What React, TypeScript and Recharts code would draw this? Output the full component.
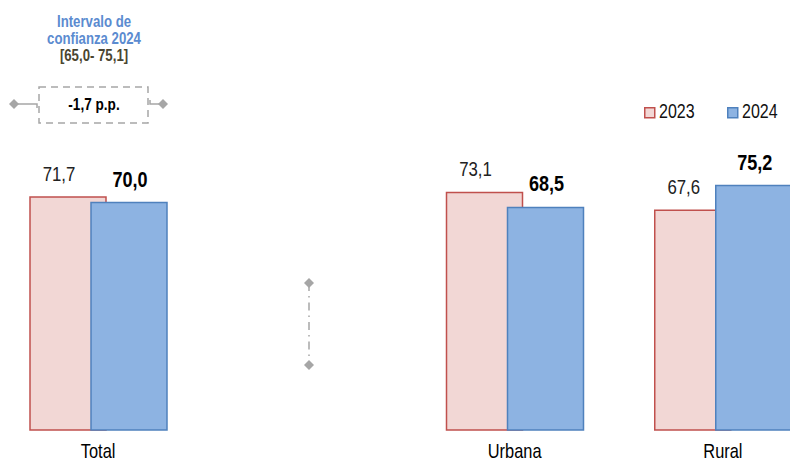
import React from 'react';
import { BarChart, Bar, XAxis, YAxis, LabelList } from 'recharts';

const CATEGORIES = ['Total', '', 'Urbana', 'Rural'];
const VALUES_2023 = [71.7, null, 73.1, 67.6];
const VALUES_2024 = [70.0, null, 68.5, 75.2];
const SERIES = ['2023', '2024'];
const CI_TITLE = ['Intervalo de', 'confianza 2024'];
const CI_RANGE = '[65,0- 75,1]';
const DIFF_LABEL = '-1,7 p.p.';

const FONT = '"Liberation Sans", Arial, sans-serif';
const PINK = '#f2d7d5';
const RED = '#c0504d';
const BLUE = '#8db3e2';
const DBLUE = '#4f81bd';
const GREY = '#a6a6a6';

const data = CATEGORIES.map((name, i) => ({
  name,
  y2023: VALUES_2023[i],
  y2024: VALUES_2024[i],
}));

const fmt = (v: number) => v.toFixed(1).replace('.', ',');

// narrow text: Arial Narrow is not installed, so squeeze Liberation Sans
const NText = ({ x, y, size, bold, fill, anchor = 'middle', sx = 0.82, children }: any) => (
  <text
    transform={`translate(${x},${y}) scale(${sx},1)`}
    textAnchor={anchor}
    fontFamily={FONT}
    fontSize={size}
    fontWeight={bold ? 'bold' : 'normal'}
    fill={fill}
  >
    {children}
  </text>
);

const makeLabel = (dx: number, bold: boolean) => (props: any) => {
  const { x, y, width, value } = props;
  if (value == null) return null;
  return (
    <NText x={x + width / 2 + dx} y={y - 16} size={bold ? 21.5 : 20.5} bold={bold} sx={bold ? 0.84 : 0.82} fill={bold ? '#000' : '#222'}>
      {fmt(value)}
    </NText>
  );
};

const CatTick = (props: any) => {
  const { x, y, payload } = props;
  return (
    <NText x={x} y={y + 28} size={20} fill="#000">
      {payload.value}
    </NText>
  );
};

const Diamond = ({ cx, cy }: { cx: number; cy: number }) => (
  <polygon points={`${cx - 5},${cy} ${cx},${cy - 5} ${cx + 5},${cy} ${cx},${cy + 5}`} fill={GREY} />
);

export default function App() {
  return (
    <div style={{ position: 'absolute', left: 0, top: 0, width: 790, height: 461, overflow: 'hidden', background: '#fff' }}>
      <div style={{ position: 'absolute', left: -6, top: 0 }}>
        <BarChart
          width={833}
          height={461}
          data={data}
          margin={{ top: 105, right: 0, bottom: 0, left: 0 }}
          barSize={76}
          barGap={-15}
        >
          <XAxis
            dataKey="name"
            axisLine={false}
            tickLine={false}
            tickSize={0}
            tickMargin={0}
            height={31}
            tick={<CatTick />}
            interval={0}
          />
          <YAxis hide domain={[0, 100]} />
          <Bar dataKey="y2023" fill={PINK} stroke={RED} strokeWidth={1.5} isAnimationActive={false}>
            <LabelList dataKey="y2023" content={makeLabel(-9, false)} />
          </Bar>
          <Bar dataKey="y2024" fill={BLUE} stroke={DBLUE} strokeWidth={1.5} isAnimationActive={false}>
            <LabelList dataKey="y2024" content={makeLabel(1, true)} />
          </Bar>
        </BarChart>
      </div>
      <svg width={790} height={461} style={{ position: 'absolute', left: 0, top: 0, pointerEvents: 'none' }}>
        {/* confidence interval note */}
        <NText x={94} y={27} size={16.5} bold sx={0.8} fill="#5b8bd0">{CI_TITLE[0]}</NText>
        <NText x={94} y={44} size={16.5} bold sx={0.8} fill="#5b8bd0">{CI_TITLE[1]}</NText>
        <NText x={94} y={61} size={16.5} bold sx={0.8} fill="#4a4530">{CI_RANGE}</NText>

        <rect x={39} y={87} width={109} height={36} fill="none" stroke={GREY} strokeWidth={1.5} strokeDasharray="7 5" />
        <polyline points="14,104 37,104 37,108" fill="none" stroke={GREY} strokeWidth={1.5} />
        <polyline points="150,100 150,104 163,104" fill="none" stroke={GREY} strokeWidth={1.5} />
        <Diamond cx={14} cy={104} />
        <Diamond cx={163} cy={104} />
        <NText x={94} y={110} size={16} bold sx={0.85} fill="#000">{DIFF_LABEL}</NText>

        <line x1={309} y1={283} x2={309} y2={365} stroke={GREY} strokeWidth={1.5} strokeDasharray="8 5 1.5 5" />
        <Diamond cx={309} cy={283} />
        <Diamond cx={309} cy={365} />

        {/* legend */}
        {SERIES.map((s, i) => {
          const x0 = i === 0 ? 644 : 727;
          return (
            <g key={s}>
              <rect x={x0 + 0.75} y={107.75} width={10} height={10} fill={i === 0 ? PINK : BLUE} stroke={i === 0 ? RED : DBLUE} strokeWidth={1.5} />
              <NText x={x0 + 15} y={118} size={20} anchor="start" sx={0.8} fill="#111">{s}</NText>
            </g>
          );
        })}
      </svg>
    </div>
  );
}
